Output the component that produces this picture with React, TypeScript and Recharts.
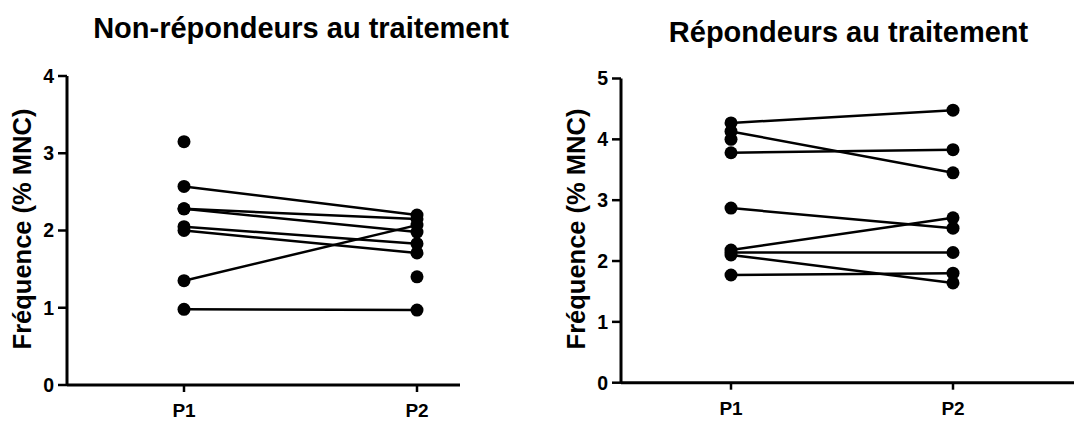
import React from 'react';
import { LineChart, Line, XAxis, YAxis } from 'recharts';

const categories = ['P1', 'P2'];

// Non-répondeurs: each index = one subject (null = no value at that time point)
const nonRespP1 = [2.57, 2.28, 2.28, 2.05, 2.0, 1.35, 0.98, 3.15, null];
const nonRespP2 = [2.2, 2.15, 1.98, 1.83, 1.71, 2.07, 0.97, null, 1.4];
const nonRespTicks = [0, 1, 2, 3, 4];

// Répondeurs
const respP1 = [4.27, 4.13, 3.78, 2.87, 2.18, 2.14, 2.1, 1.77, 4.0];
const respP2 = [4.48, 3.45, 3.83, 2.54, 2.71, 2.14, 1.64, 1.8, null];
const respTicks = [0, 1, 2, 3, 4, 5];

const titleLeft = 'Non-répondeurs au traitement';
const titleRight = 'Répondeurs au traitement';
const yLabel = 'Fréquence (% MNC)';

const FONT = '"Liberation Sans", Arial, sans-serif';

function buildRows(p1: (number | null)[], p2: (number | null)[]) {
  const series = [p1, p2];
  return categories.map((c, ci) => {
    const row: Record<string, any> = { cat: c };
    series[ci].forEach((v, i) => {
      row['s' + i] = v;
    });
    return row;
  });
}

const tickStyle = { fill: '#000', fontSize: 19.5, fontWeight: 'bold', fontFamily: FONT };
const xTickStyle = { fill: '#000', fontSize: 19, fontWeight: 'bold', fontFamily: FONT };

function Panel(props: {
  p1: (number | null)[];
  p2: (number | null)[];
  ticks: number[];
  width: number;
  left: number;
  top: number;
  bottom: number;
  yAxisWidth: number;
  right: number;
  padLeft: number;
  padRight: number;
}) {
  const rows = buildRows(props.p1, props.p2);
  const n = props.p1.length;
  const max = props.ticks[props.ticks.length - 1];
  return (
    <div style={{ position: 'absolute', left: props.left, top: 0 }}>
      <LineChart
        width={props.width}
        height={424}
        data={rows}
        margin={{ top: props.top, right: props.right, bottom: props.bottom - 30, left: 0 }}
      >
        <XAxis
          dataKey="cat"
          height={30}
          padding={{ left: props.padLeft, right: props.padRight }}
          axisLine={{ stroke: '#000', strokeWidth: 3 }}
          tickLine={{ stroke: '#000', strokeWidth: 2.5 }}
          tickSize={7}
          tickMargin={12}
          tick={xTickStyle}
        />
        <YAxis
          width={props.yAxisWidth}
          domain={[0, max]}
          ticks={props.ticks}
          interval={0}
          axisLine={{ stroke: '#000', strokeWidth: 3 }}
          tickLine={{ stroke: '#000', strokeWidth: 2.5 }}
          tickSize={9}
          tickMargin={4}
          tick={tickStyle}
        />
        {Array.from({ length: n }).map((_, i) => (
          <Line
            key={i}
            dataKey={'s' + i}
            stroke="#000"
            strokeWidth={2.5}
            dot={{ r: 6.5, fill: '#000', stroke: '#000', strokeWidth: 0 }}
            activeDot={false}
            isAnimationActive={false}
            connectNulls={false}
          />
        ))}
      </LineChart>
    </div>
  );
}

export default function App() {
  return (
    <div style={{ position: 'absolute', left: 0, top: 0, width: 1074, height: 424, background: '#fff' }}>
      <Panel
        p1={nonRespP1}
        p2={nonRespP2}
        ticks={nonRespTicks}
        width={470}
        left={0}
        top={76}
        bottom={39}
        yAxisWidth={67}
        right={10}
        padLeft={117}
        padRight={43}
      />
      <Panel
        p1={respP1}
        p2={respP2}
        ticks={respTicks}
        width={534}
        left={540}
        top={78.5}
        bottom={41.3}
        yAxisWidth={81}
        right={0}
        padLeft={110}
        padRight={121}
      />
      <svg
        width={1074}
        height={424}
        style={{ position: 'absolute', left: 0, top: 0, pointerEvents: 'none' }}
      >
        <text x={301} y={37.5} textAnchor="middle" fontFamily={FONT} fontWeight="bold" fontSize={29} fill="#000">
          {titleLeft}
        </text>
        <text x={848.5} y={41.7} textAnchor="middle" fontFamily={FONT} fontWeight="bold" fontSize={29} fill="#000">
          {titleRight}
        </text>
        <text
          x={0}
          y={0}
          transform="translate(31,229) rotate(-90)"
          textAnchor="middle"
          fontFamily={FONT}
          fontWeight="bold"
          fontSize={25.5}
          fill="#000"
        >
          {yLabel}
        </text>
        <text
          x={0}
          y={0}
          transform="translate(585,229) rotate(-90)"
          textAnchor="middle"
          fontFamily={FONT}
          fontWeight="bold"
          fontSize={25.5}
          fill="#000"
        >
          {yLabel}
        </text>
      </svg>
    </div>
  );
}
